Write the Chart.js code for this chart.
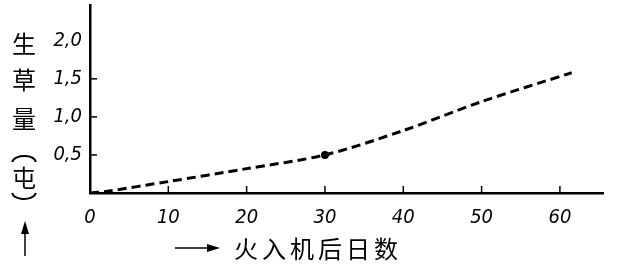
<!DOCTYPE html>
<html>
<head>
<meta charset="utf-8">
<script src="https://cdn.jsdelivr.net/npm/chart.js@4"></script>
<style>
  html, body { margin: 0; padding: 0; background: #fff; }
  #wrap { width: 618px; height: 266px; }
</style>
</head>
<body>
<div id="wrap"><canvas id="myChart" width="618" height="266"></canvas></div>
<script>
// days after burning vs. fresh grass yield (tons)
const days = [0, 2, 10, 20, 30, 40, 50, 61.5];
const grass = [0, 0.02, 0.15, 0.32, 0.5, 0.82, 1.2, 1.58];
const xTicks = [0, 10, 20, 30, 40, 50, 60];
const yTicks = [0.5, 1.0, 1.5, 2.0];
const yTitle = ["生", "草", "量", "屯"];
const xTitle = ["火", "入", "机", "后", "日", "数"];

const digitFont = { family: "'DejaVu Sans Condensed', 'DejaVu Sans', sans-serif", size: 20, style: "italic" };
const cjk = "'Noto Sans CJK SC', sans-serif";

const points = days.map((d, i) => ({ x: d, y: grass[i] }));

// inward tick marks + axis titles
const decor = {
  id: "decor",
  afterDraw(chart) {
    const ctx = chart.ctx;
    const xs = chart.scales.x, ys = chart.scales.y;
    const area = chart.chartArea;
    ctx.save();
    ctx.strokeStyle = "#000";
    ctx.lineWidth = 1.5;
    xTicks.slice(1).forEach((v) => {
      const px = xs.getPixelForValue(v);
      ctx.beginPath();
      ctx.moveTo(px, area.bottom);
      ctx.lineTo(px, area.bottom - 7);
      ctx.stroke();
    });
    yTicks.slice(0, 3).forEach((v) => {
      const py = ys.getPixelForValue(v);
      ctx.beginPath();
      ctx.moveTo(area.left, py);
      ctx.lineTo(area.left + 7, py);
      ctx.stroke();
    });

    ctx.fillStyle = "#000";
    ctx.textAlign = "center";
    ctx.textBaseline = "middle";
    ctx.font = "24px " + cjk;
    const yPos = [44, 80, 119, 178];
    yTitle.forEach((c, i) => ctx.fillText(c, 24, yPos[i]));
    // vertical brackets around the unit
    ctx.lineWidth = 2;
    ctx.beginPath();
    ctx.ellipse(24, 163, 12, 7, 0, Math.PI * 1.05, Math.PI * 1.95);
    ctx.stroke();
    ctx.beginPath();
    ctx.ellipse(24, 192, 12, 7, 0, Math.PI * 0.05, Math.PI * 0.95);
    ctx.stroke();

    // up arrow
    ctx.lineWidth = 1.5;
    ctx.beginPath();
    ctx.moveTo(25, 256);
    ctx.lineTo(25, 228);
    ctx.stroke();
    ctx.beginPath();
    ctx.moveTo(25, 221);
    ctx.lineTo(21, 234);
    ctx.lineTo(29, 234);
    ctx.closePath();
    ctx.fill();

    // right arrow
    ctx.beginPath();
    ctx.moveTo(175, 248);
    ctx.lineTo(212, 248);
    ctx.stroke();
    ctx.beginPath();
    ctx.moveTo(220, 248);
    ctx.lineTo(207, 244);
    ctx.lineTo(207, 252);
    ctx.closePath();
    ctx.fill();
    xTitle.forEach((c, i) => ctx.fillText(c, 246 + i * 28, 249));
    ctx.restore();
  }
};

const config = {
  type: "line",
  data: {
    datasets: [
      {
        data: points,
        borderColor: "#000",
        backgroundColor: "#000",
        borderWidth: 3,
        borderDash: [9, 5],
        tension: 0.3,
        pointRadius: (c) => (c.dataIndex === 4 ? 2.5 : 0),
        fill: false,
      },
    ],
  },
  options: {
    responsive: false,
    animation: false,
    layout: { padding: { left: 50, top: 5, right: 15, bottom: 0 } },
    plugins: { legend: { display: false }, tooltip: { enabled: false } },
    scales: {
      x: {
        type: "linear",
        min: 0,
        max: 65.5,
        afterFit: (s) => { s.height = 73; s.paddingLeft = 0; s.paddingRight = 0; },
        afterBuildTicks: (s) => { s.ticks = xTicks.map((v) => ({ value: v })); },
        border: { color: "#000", width: 2.5 },
        grid: { drawOnChartArea: false, drawTicks: false },
        ticks: { color: "#000", font: digitFont, padding: 13, maxRotation: 0, autoSkip: false },
      },
      y: {
        min: 0,
        max: 2.47,
        afterFit: (s) => { s.width = 40; s.paddingTop = 0; s.paddingBottom = 0; },
        afterBuildTicks: (s) => { s.ticks = yTicks.map((v) => ({ value: v })); },
        border: { color: "#000", width: 2.5 },
        grid: { drawOnChartArea: false, drawTicks: false },
        ticks: {
          color: "#000",
          font: digitFont,
          padding: 8,
          callback: (v) => v.toFixed(1).replace(".", ","),
        },
      },
    },
  },
  plugins: [decor],
};

const myChart = new Chart(document.getElementById("myChart"), config);
</script>
</body>
</html>
